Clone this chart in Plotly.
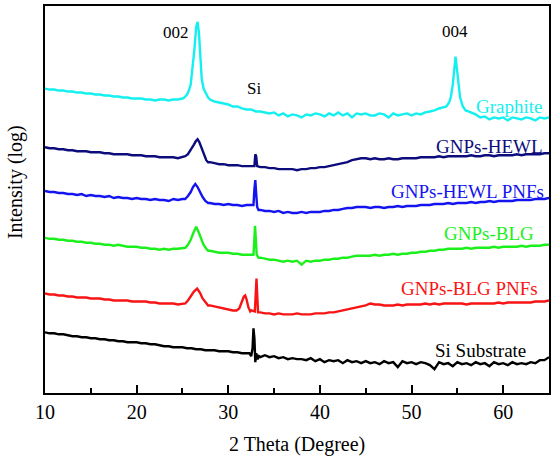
import numpy as np
import plotly.graph_objects as go

# 2-theta grid (degrees) on which the baseline readings were taken
X_GRID = np.arange(10, 65.001, 0.5)

# ---- Baseline readings (arbitrary offset intensity units), None = inside a peak ----
graphite = [306,305,305,304,304,303,303,302,302,301,
            301,300,300,299,299,298,298,297,297,296,
            296,296,295,295,294,295,295,294,295,295,
            296,None,None,None,None,None,295,293,292,291,
            290,288,288,286,285,285,283,283,282,281,
            282,279,281,278,280,279,277,280,279,281,
            280,278,281,279,282,279,281,277,281,280,
            281,279,279,281,280,277,281,279,280,281,
            279,281,280,282,283,284,286,287,None,None,
            None,None,None,282,280,277,278,275,277,276,
            277,274,277,276,275,277,276,274,277,276,
            277]
graphite_pk_x = [25.2,25.5,25.7,25.9,26.1,26.3,26.5,26.65,26.8,26.95,27.1,27.3,27.6,27.8,
                 53.8,54.1,54.3,54.5,54.65,54.8,54.95,55.1,55.3,55.6,55.9,56.2]
graphite_pk_y = [297,300,304,310,325,345,368,373,362,335,316,306,300,297,
                 288,292,298,310,325,338,326,310,297,288,284,283]

hewl = [247,246,246,245,245,244,244,243,243,243,
        242,242,242,241,241,240,240,240,240,239,
        239,239,238,238,238,237,237,237,237,236,
        237,None,None,None,None,None,232,231,230,230,
        229,229,229,228,228,228,None,227,227,226,
        226,225,225,225,225,224,225,225,226,226,
        227,227,228,229,230,231,232,234,235,236,
        236,235,236,235,235,236,235,235,236,236,
        236,236,237,237,237,237,238,237,238,238,
        238,238,238,239,238,238,239,239,238,239,
        239,239,239,240,239,240,240,240,240,241,
        241]
hewl_pk_x = [25.3,25.6,25.9,26.2,26.45,26.65,26.85,27.05,27.3,27.6,27.8,
             32.85,32.95,33.05,33.15]
hewl_pk_y = [238,240,244,249,253,255,252,247,240,234,232,
             228,240,238,228]

hewl_pnf = [203,202,202,201,201,200,200,199,200,198,
            199,198,198,197,198,196,197,196,196,195,
            196,195,195,194,195,194,194,193,195,194,
            195,None,None,None,None,None,191,190,190,189,
            190,189,189,188,189,189,None,184,183,183,
            182,183,181,182,181,181,182,181,182,182,
            182,183,183,184,184,185,186,186,187,187,
            187,186,187,187,186,187,187,188,187,188,
            188,188,189,189,189,190,190,190,191,190,
            191,191,191,192,191,192,192,193,192,193,
            193,193,193,194,194,194,194,195,195,195,
            196]
hewl_pnf_pk_x = [25.3,25.6,25.9,26.15,26.4,26.65,26.9,27.2,27.5,27.8,
                 32.75,32.85,32.95,33.05,33.15,33.3]
hewl_pnf_pk_y = [195,198,202,207,210,207,202,197,193,191,
                 189,205,214,200,187,184]

blg = [156,155,155,154,154,153,153,152,152,151,
       151,150,150,149,149,148,149,148,147,147,
       147,146,146,145,145,144,145,144,145,145,
       146,None,None,None,None,None,143,142,141,141,
       141,140,140,139,139,139,None,136,135,134,
       134,133,132,133,132,133,129,133,132,133,
       133,134,134,135,135,136,136,137,138,138,
       138,138,139,138,139,139,140,139,140,140,
       141,141,142,142,143,143,144,144,145,145,
       145,145,146,145,146,146,146,146,147,146,
       147,147,147,147,148,147,148,148,148,149,
       149]
blg_pk_x = [25.3,25.6,25.9,26.2,26.5,26.75,27.0,27.3,27.6,27.8,
            32.75,32.85,32.92,33.0,33.1,33.3]
blg_pk_y = [146,149,154,161,167,162,155,149,145,143,
            139,155,168,156,139,136]

blg_pnf = [100,99,99,98,98,97,97,96,96,96,
           95,95,95,94,94,93,93,93,93,92,
           92,92,92,91,91,90,90,90,90,89,
           90,None,None,None,None,None,88,87,86,85,
           84,83,None,None,None,83,None,81,80,80,
           79,80,79,79,79,80,79,79,79,80,
           80,80,81,81,82,83,84,85,86,87,
           88,90,89,89,88,88,88,89,88,89,
           89,89,89,90,89,90,89,90,90,90,
           90,90,89,90,90,90,90,90,90,91,
           90,91,91,91,91,91,91,92,92,92,
           93]
blg_pnf_pk_x = [25.3,25.6,25.9,26.25,26.6,26.9,27.2,27.5,27.8,
                30.9,31.2,31.45,31.7,31.85,32.0,32.2,32.4,
                32.9,33.0,33.08,33.15,33.25]
blg_pnf_pk_y = [90,93,97,102,105,101,95,91,88,
                83,85,91,97,98,94,86,82,
                82,100,115,100,81]

si_sub = [61,60,60,59,59,58,57,57,56,56,
          55,55,54,54,53,53,52,52,51,51,
          51,50,50,49,49,48,47,47,46,46,
          46,45,45,44,44,43,43,43,42,42,
          42,41,41,40,40,None,None,36,38,36,
          37,35,36,34,35,34,34,33,35,32,
          34,31,33,32,33,30,33,31,32,30,
          32,30,31,29,32,30,31,26,32,30,
          31,29,31,30,28,24,31,29,30,27,
          31,29,30,28,31,29,30,27,31,29,
          30,28,31,29,30,29,31,30,33,33,
          36]
si_sub_pk_x = [32.3,32.5,32.65,32.75,32.85,32.95,33.05,33.2,33.35]
si_sub_pk_y = [40,37,45,65,55,31,40,34,37]

series_names = ["Graphite", "GNPs-HEWL", "GNPs-HEWL PNFs", "GNPs-BLG", "GNPs-BLG PNFs", "Si Substrate"]
series_colors = ["#14f0f0", "#0c0c7c", "#1414f0", "#1cf01c", "#f81414", "#000000"]
base_list = [graphite, hewl, hewl_pnf, blg, blg_pnf, si_sub]
pk_x_list = [graphite_pk_x, hewl_pk_x, hewl_pnf_pk_x, blg_pk_x, blg_pnf_pk_x, si_sub_pk_x]
pk_y_list = [graphite_pk_y, hewl_pk_y, hewl_pnf_pk_y, blg_pk_y, blg_pnf_pk_y, si_sub_pk_y]

# label placement (x end, y centre) in data units
label_x = [64.45, 64.56, 64.67, 63.58, 64.02, 62.71]
label_y = [288, 248, 203, 160, 105, 43]

FONT = "Liberation Serif, Times New Roman, serif"

fig = go.Figure()
for name, col, base, px, py in zip(series_names, series_colors, base_list, pk_x_list, pk_y_list):
    pts = [(x, v) for x, v in zip(X_GRID, base) if v is not None] + list(zip(px, py))
    pts.sort(key=lambda p: p[0])
    fig.add_trace(go.Scatter(x=[p[0] for p in pts], y=[p[1] for p in pts], mode="lines",
                             line=dict(color=col, width=2.4), name=name, showlegend=False,
                             hoverinfo="skip"))

ann = []
for name, col, lx, ly in zip(series_names, series_colors, label_x, label_y):
    ann.append(dict(x=lx, y=ly, xref="x", yref="y", text=name, showarrow=False,
                    xanchor="right", yanchor="middle", font=dict(family=FONT, size=19, color=col)))
for txt, ax_, ay_ in [("002", 24.3, 362), ("004", 54.74, 363), ("Si", 32.8, 306)]:
    ann.append(dict(x=ax_, y=ay_, xref="x", yref="y", text=txt, showarrow=False,
                    xanchor="center", yanchor="middle", font=dict(family=FONT, size=17, color="black")))
ann.append(dict(x=-0.0595, y=212, xref="paper", yref="y", text="Intensity (log)", textangle=-90,
                showarrow=False, xanchor="center", yanchor="middle",
                font=dict(family=FONT, size=20, color="black")))
ann.append(dict(x=0.5, y=-0.134, xref="paper", yref="paper", text="2 Theta (Degree)",
                showarrow=False, xanchor="center", yanchor="middle",
                font=dict(family=FONT, size=20, color="black")))

fig.update_layout(
    width=555, height=460,
    margin=dict(l=45, r=6, t=4, b=67),
    paper_bgcolor="white", plot_bgcolor="white",
    annotations=ann,
    hovermode=False,
    xaxis=dict(range=[10, 65], tickvals=[10, 20, 30, 40, 50, 60], ticks="inside", ticklen=8,
               tickwidth=1.5, tickcolor="black", showline=True, linecolor="black", linewidth=2,
               mirror=True, showgrid=False, zeroline=False,
               tickfont=dict(family=FONT, size=20, color="black"),
               minor=dict(tickvals=[15, 25, 35, 45, 55], ticks="inside", ticklen=5,
                          tickwidth=1.5, tickcolor="black")),
    yaxis=dict(range=[0, 389], showticklabels=False, ticks="", showline=True, linecolor="black",
               linewidth=2, mirror=True, showgrid=False, zeroline=False),
)

fig.write_html("out.html", config={"displayModeBar": False},
               post_script="document.body.style.margin='0';document.body.style.padding='0';"
                           "document.documentElement.style.overflow='hidden';")
